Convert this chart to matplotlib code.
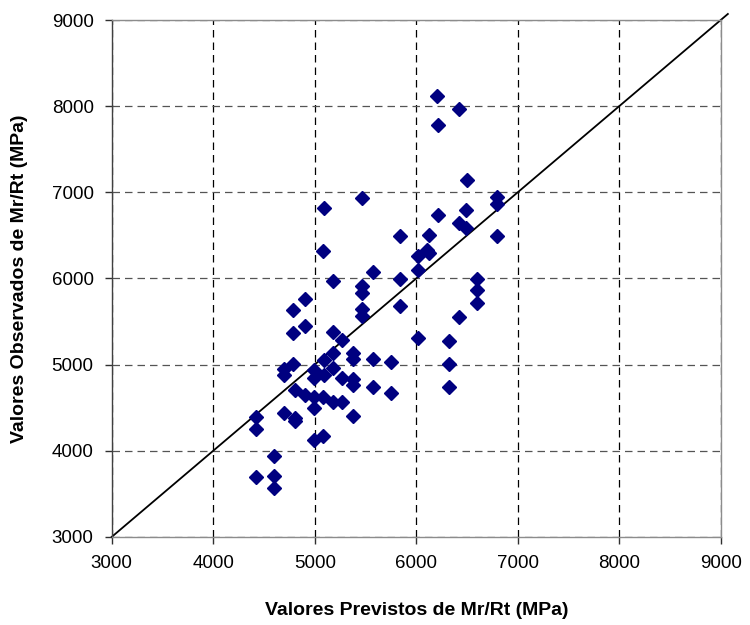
import matplotlib.pyplot as plt

# Valores previstos (x) e observados (y) de Mr/Rt em MPa
previstos = [6200, 6420, 6210, 6500, 6800, 6800, 6210, 6490, 6420, 6490,
             5840, 6130, 6110, 6130, 6020, 6020, 6800, 5840, 5840, 6600,
             6600, 6600, 6420, 5470, 5090, 5080, 5570, 5180, 5470, 5470,
             4900, 4790, 5470, 5470, 4900, 5180, 4790, 5270, 5180, 5380,
             5380, 5570, 5750, 5090, 4790, 4700, 4700, 4990, 4990, 5180,
             5090, 5270, 5380, 5380, 5570, 5750, 4810, 4900, 4990, 5080,
             5180, 5270, 4990, 5380, 4700, 4810, 4810, 4420, 4420, 4990,
             5080, 4600, 4420, 4600, 4600, 6020, 6320, 6320, 6320]
observados = [8120, 7970, 7780, 7140, 6940, 6860, 6740, 6800, 6640, 6590,
              6490, 6510, 6330, 6300, 6260, 6095, 6490, 5990, 5680, 5990,
              5860, 5715, 5550, 6930, 6820, 6320, 6070, 5970, 5910, 5830,
              5760, 5630, 5640, 5560, 5450, 5380, 5370, 5280, 5140, 5140,
              5060, 5070, 5030, 5050, 5010, 4950, 4880, 4940, 4840, 4960,
              4880, 4840, 4830, 4760, 4735, 4670, 4700, 4650, 4620, 4625,
              4570, 4570, 4500, 4400, 4440, 4380, 4340, 4390, 4250, 4120,
              4170, 3940, 3690, 3710, 3565, 5310, 5270, 5010, 4735]
limites = [3000, 9000]
linha_igualdade = [3000, 9070]
marcas = [3000, 4000, 5000, 6000, 7000, 8000, 9000]

plt.rcParams['font.family'] = ['Liberation Sans', 'DejaVu Sans']

fig = plt.figure(figsize=(7.5, 6.25), dpi=100)
ax = fig.add_axes([0.149, 0.141, 0.812, 0.827])

# Linha de igualdade (passa um pouco da borda superior, como no original)
ax.plot(linha_igualdade, linha_igualdade, color='black', linewidth=1.3,
        zorder=2, clip_on=False)

# Pontos
ax.plot(previstos, observados, linestyle='none', marker='D', markersize=7,
        color='#000080', markeredgecolor='#000080', zorder=3)

ax.set_xlim(limites)
ax.set_ylim(limites)
ax.set_xticks(marcas)
ax.set_yticks(marcas)
ax.xaxis.grid(True, color='black', linestyle=(0, (6, 4)), linewidth=0.9)
ax.yaxis.grid(True, color='#555555', linestyle=(0, (6, 4)), linewidth=0.9)
ax.set_axisbelow(True)

for lado in ['top', 'right', 'bottom']:
    ax.spines[lado].set_color('#8c8c8c')
    ax.spines[lado].set_linewidth(1.0)
ax.spines['left'].set_color('#404040')
ax.spines['left'].set_linewidth(1.0)

ax.tick_params(direction='out', length=5, width=1, labelsize=13.5, pad=8,
               color='#303030')
ax.set_xlabel('Valores Previstos de Mr/Rt (MPa)', fontsize=14,
              fontweight='bold', labelpad=22)
ax.set_ylabel('Valores Observados de Mr/Rt (MPa)', fontsize=14,
              fontweight='bold', labelpad=17)

fig.savefig('out.png', dpi=100)
